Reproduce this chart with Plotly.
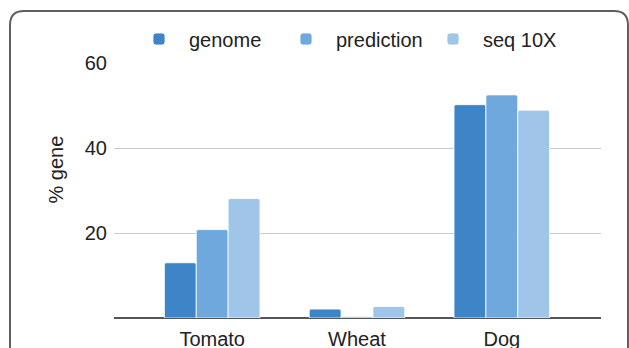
import plotly.graph_objects as go

# Share of genes per organism
categories = ["Tomato", "Wheat", "Dog"]
series_names = ["genome", "prediction", "seq 10X"]
genome = [13.0, 2.1, 50.2]
prediction = [20.8, 0.3, 52.5]
seq_10x = [28.1, 2.7, 48.9]
series_values = [genome, prediction, seq_10x]
colors = ["#3d85c6", "#6fa8dc", "#9fc5e8"]
y_ticks = [20, 40, 60]

W, H = 629, 348
ML, MR, MT, MB = 114, 28, 63, 30
PW, PH = W - ML - MR, H - MT - MB

FONT = "Liberation Sans, Arial, sans-serif"
FS = 20


def px_to_paper(x, y):
    return (x - ML) / PW, (H - MB - y) / PH


fig = go.Figure()
for name, vals, col in zip(series_names, series_values, colors):
    fig.add_trace(go.Bar(
        x=categories, y=vals, name=name,
        marker=dict(color=col, line=dict(color="white", width=0.8), cornerradius=2),
    ))

# rounded panel frame (open at the bottom)
r = 14
x0, x1, top, bot = 10, 628, 11, 380
a = px_to_paper(x0, bot)
b = px_to_paper(x0, top + r)
c = px_to_paper(x0, top)
d = px_to_paper(x0 + r, top)
e = px_to_paper(x1 - r, top)
f = px_to_paper(x1, top)
g = px_to_paper(x1, top + r)
h = px_to_paper(x1, bot)
path = (f"M{a[0]},{a[1]} L{b[0]},{b[1]} Q{c[0]},{c[1]} {d[0]},{d[1]} "
        f"L{e[0]},{e[1]} Q{f[0]},{f[1]} {g[0]},{g[1]} L{h[0]},{h[1]}")
fig.add_shape(type="path", path=path, xref="paper", yref="paper",
              line=dict(color="#5f5f5f", width=2), layer="above")

tx, ty = px_to_paper(55.5, 170)
fig.add_annotation(text="% gene", x=tx, y=ty, xref="paper", yref="paper",
                   xanchor="center", yanchor="middle",
                   textangle=-90, showarrow=False,
                   font=dict(size=FS, color="#222222", family=FONT))

lx, ly = px_to_paper(129, 39)
fig.update_layout(
    width=W, height=H,
    margin=dict(l=ML, r=MR, t=MT, b=MB, pad=0, autoexpand=False),
    paper_bgcolor="white", plot_bgcolor="white",
    barmode="group", bargap=0.34, bargroupgap=0,
    font=dict(family=FONT, size=FS, color="#222222"),
    showlegend=True,
    legend=dict(orientation="h", x=lx, y=ly, xanchor="left", yanchor="middle",
                xref="paper", yref="paper", itemwidth=50,
                entrywidth=82, entrywidthmode="pixels",
                font=dict(size=FS, color="#222222", family=FONT),
                bgcolor="rgba(0,0,0,0)", itemclick=False),
    xaxis=dict(range=[-0.678, 2.685], showgrid=False, zeroline=False,
               showline=False, ticks="", tickfont=dict(size=FS), automargin=False,
               ticklabelstandoff=7),
    yaxis=dict(range=[0, 60], tickvals=y_ticks, showgrid=True,
               gridcolor="#cccccc", gridwidth=1, zeroline=True,
               zerolinecolor="#555555", zerolinewidth=1.5, automargin=False,
               ticks="", ticklabelstandoff=6, tickfont=dict(size=FS)),
)

fig.write_html("out.html")
